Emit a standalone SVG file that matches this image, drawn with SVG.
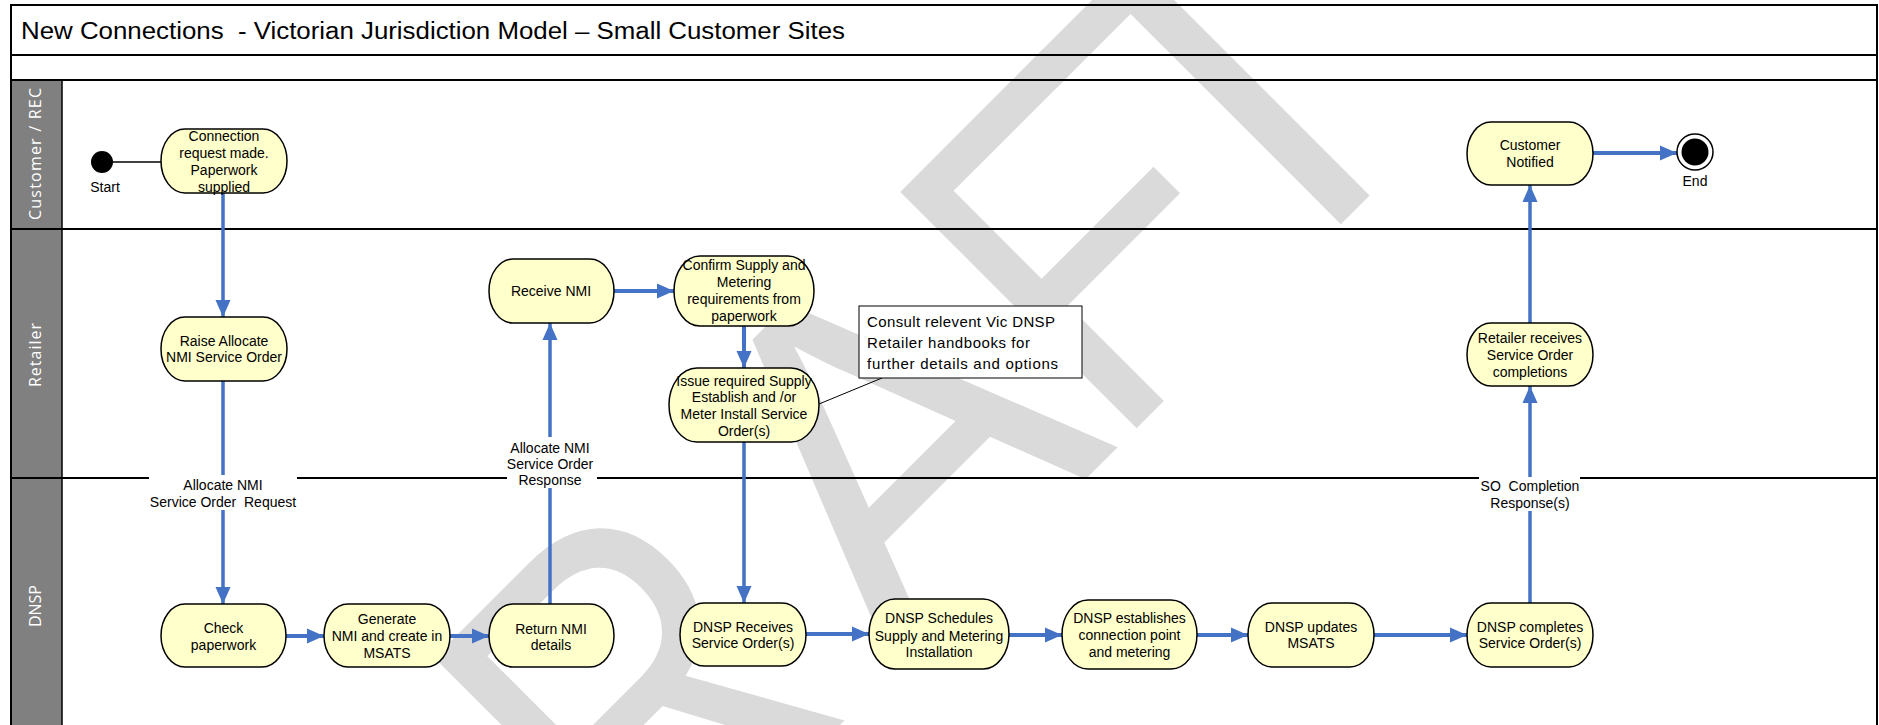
<svg xmlns="http://www.w3.org/2000/svg" width="1879" height="725" viewBox="0 0 1879 725">
<style>
.frame{fill:none;stroke:#000;stroke-width:2}
.hdr{fill:#808080;stroke:#000;stroke-width:1.5}
.hl{font-family:"Open Sans","Liberation Sans",sans-serif;font-size:16px;fill:#fff;text-anchor:middle}
.title{font-family:"Liberation Sans",Arial,sans-serif;font-size:23px;fill:#000}
.box{fill:#ffffcc;stroke:#000;stroke-width:1.5}
.nt{font-family:"Liberation Sans",Arial,sans-serif;font-size:14px;fill:#000;text-anchor:middle}
.conn{stroke:#4472c4;stroke-width:4;fill:none}
.vl{stroke-width:3.5}
.lbl{fill:#fff;stroke:none}
.note{fill:#fff;stroke:#000;stroke-width:1}
.nte{font-family:"Liberation Sans",Arial,sans-serif;font-size:15px;fill:#000}
.wm{font-family:"Liberation Sans",Arial,sans-serif;font-size:486px;fill:#dadada}
</style>
<defs>
<marker id="ah" markerUnits="userSpaceOnUse" markerWidth="18" markerHeight="16" refX="17" refY="8" orient="auto" viewBox="0 0 18 16"><path d="M0,0.5 L17,8 L0,15.5 z" fill="#4472c4"/></marker>
</defs>
<rect width="1879" height="725" fill="#fff"/>
<g id="watermark" transform="translate(890,180) rotate(-45)">
<text class="wm" x="-1012" y="350" textLength="338" lengthAdjust="spacingAndGlyphs">D</text>
<text class="wm" x="-694" y="350" textLength="299" lengthAdjust="spacingAndGlyphs">R</text>
<text class="wm" x="-345" y="350" textLength="318" lengthAdjust="spacingAndGlyphs">A</text>
<text class="wm" x="-35" y="350" textLength="252" lengthAdjust="spacingAndGlyphs">F</text>
<text class="wm" x="174" y="350" textLength="268" lengthAdjust="spacingAndGlyphs">T</text>
</g>
<g id="frame">
<rect class="hdr" x="11" y="80" width="51" height="660"/>
<rect class="frame" x="11" y="5" width="1866" height="740"/>
<line class="frame" x1="11" y1="55" x2="1877" y2="55"/>
<line class="frame" x1="11" y1="80" x2="1877" y2="80"/>
<line class="frame" x1="11" y1="229" x2="1877" y2="229"/>
<line class="frame" x1="11" y1="478" x2="1877" y2="478"/>
<text class="title" x="21" y="39" textLength="824" lengthAdjust="spacingAndGlyphs">New Connections&#160; - Victorian Jurisdiction Model – Small Customer Sites</text>
<text class="hl" transform="translate(41,154) rotate(-90)" textLength="132">Customer / REC</text>
<text class="hl" transform="translate(41,355) rotate(-90)" textLength="64">Retailer</text>
<text class="hl" transform="translate(41,606) rotate(-90)" textLength="42">DNSP</text>
</g>
<g id="connectors">
<line x1="113" y1="162" x2="161" y2="162" stroke="#000" stroke-width="1.5"/>
<line class="conn vl" x1="223" y1="193" x2="223" y2="317" marker-end="url(#ah)"/>
<line class="conn vl" x1="223" y1="381" x2="223" y2="604" marker-end="url(#ah)"/>
<line class="conn vl" x1="550" y1="604" x2="550" y2="323" marker-end="url(#ah)"/>
<line class="conn" x1="614" y1="291" x2="674" y2="291" marker-end="url(#ah)"/>
<line class="conn" x1="744" y1="326" x2="744" y2="368" marker-end="url(#ah)"/>
<line class="conn vl" x1="744" y1="442" x2="744" y2="603" marker-end="url(#ah)"/>
<line class="conn" x1="286" y1="636" x2="324" y2="636" marker-end="url(#ah)"/>
<line class="conn" x1="450" y1="636" x2="489" y2="636" marker-end="url(#ah)"/>
<line class="conn" x1="806" y1="634" x2="869" y2="634" marker-end="url(#ah)"/>
<line class="conn" x1="1009" y1="635" x2="1062" y2="635" marker-end="url(#ah)"/>
<line class="conn" x1="1197" y1="635" x2="1248" y2="635" marker-end="url(#ah)"/>
<line class="conn" x1="1374" y1="635" x2="1467" y2="635" marker-end="url(#ah)"/>
<line class="conn vl" x1="1530" y1="603" x2="1530" y2="386" marker-end="url(#ah)"/>
<line class="conn vl" x1="1530" y1="323" x2="1530" y2="185" marker-end="url(#ah)"/>
<line class="conn" x1="1593" y1="153" x2="1677" y2="153" marker-end="url(#ah)"/>
<line x1="882" y1="378" x2="819" y2="404" stroke="#000" stroke-width="1"/>
<rect class="lbl" x="149" y="475" width="148" height="35"/>
<text class="nt" x="223" y="490">Allocate NMI</text>
<text class="nt" x="223" y="507">Service Order&#160; Request</text>
<rect class="lbl" x="507" y="437" width="90" height="51"/>
<text class="nt" x="550" y="453">Allocate NMI</text>
<text class="nt" x="550" y="469">Service Order</text>
<text class="nt" x="550" y="485">Response</text>
<rect class="lbl" x="1479" y="477" width="101" height="34"/>
<text class="nt" x="1530" y="491">SO&#160; Completion</text>
<text class="nt" x="1530" y="508">Response(s)</text>
</g>
<g id="start">
<circle cx="102" cy="162" r="11" fill="#000"/>
<text class="nt" x="105" y="192">Start</text>
</g>
<g id="end">
<circle cx="1695" cy="152" r="18" fill="#fff" stroke="#000" stroke-width="1.5"/>
<circle cx="1695" cy="152" r="13.5" fill="#000"/>
<text class="nt" x="1695" y="186">End</text>
</g>
<g id="n-connection">
<rect class="box" x="161" y="129" width="126" height="64" rx="24" ry="32"/>
<text class="nt" x="224" y="141">Connection</text>
<text class="nt" x="224" y="158">request made.</text>
<text class="nt" x="224" y="175">Paperwork</text>
<text class="nt" x="224" y="192">supplied</text>
</g>
<g id="n-raise">
<rect class="box" x="161" y="317" width="126" height="64" rx="24" ry="32"/>
<text class="nt" x="224" y="346">Raise Allocate</text>
<text class="nt" x="224" y="362">NMI Service Order</text>
</g>
<g id="n-receive">
<rect class="box" x="489" y="259" width="125" height="64" rx="24" ry="32"/>
<text class="nt" x="551" y="296">Receive NMI</text>
</g>
<g id="n-confirm">
<rect class="box" x="674" y="256" width="140" height="70" rx="26" ry="35"/>
<text class="nt" x="744" y="270">Confirm Supply and</text>
<text class="nt" x="744" y="287">Metering</text>
<text class="nt" x="744" y="304">requirements from</text>
<text class="nt" x="744" y="321">paperwork</text>
</g>
<g id="n-issue">
<rect class="box" x="669" y="368" width="150" height="74" rx="28" ry="37"/>
<text class="nt" x="744" y="386">Issue required Supply</text>
<text class="nt" x="744" y="402">Establish and /or</text>
<text class="nt" x="744" y="419">Meter Install Service</text>
<text class="nt" x="744" y="436">Order(s)</text>
</g>
<g id="note">
<rect class="note" x="859" y="306" width="223" height="72"/>
<text class="nte" x="867" y="327" textLength="188">Consult relevent Vic DNSP</text>
<text class="nte" x="867" y="348" textLength="163">Retailer handbooks for</text>
<text class="nte" x="867" y="369" textLength="191">further details and options</text>
</g>
<g id="n-retailer-receives">
<rect class="box" x="1467" y="323" width="126" height="63" rx="24" ry="31.5"/>
<text class="nt" x="1530" y="343">Retailer receives</text>
<text class="nt" x="1530" y="360">Service Order</text>
<text class="nt" x="1530" y="377">completions</text>
</g>
<g id="n-customer-notified">
<rect class="box" x="1467" y="122" width="126" height="63" rx="24" ry="31.5"/>
<text class="nt" x="1530" y="150">Customer</text>
<text class="nt" x="1530" y="167">Notified</text>
</g>
<g id="n-check">
<rect class="box" x="161" y="604" width="125" height="63" rx="24" ry="31.5"/>
<text class="nt" x="223.5" y="633">Check</text>
<text class="nt" x="223.5" y="650">paperwork</text>
</g>
<g id="n-generate">
<rect class="box" x="324" y="604" width="126" height="63" rx="24" ry="31.5"/>
<text class="nt" x="387" y="624">Generate</text>
<text class="nt" x="387" y="641">NMI and create in</text>
<text class="nt" x="387" y="658">MSATS</text>
</g>
<g id="n-return">
<rect class="box" x="489" y="604" width="125" height="63" rx="24" ry="31.5"/>
<text class="nt" x="551" y="634">Return NMI</text>
<text class="nt" x="551" y="650">details</text>
</g>
<g id="n-dnsp-receives">
<rect class="box" x="680" y="603" width="126" height="63" rx="24" ry="31.5"/>
<text class="nt" x="743" y="632">DNSP Receives</text>
<text class="nt" x="743" y="648">Service Order(s)</text>
</g>
<g id="n-dnsp-schedules">
<rect class="box" x="869" y="599" width="140" height="70" rx="26" ry="35"/>
<text class="nt" x="939" y="623">DNSP Schedules</text>
<text class="nt" x="939" y="641">Supply and Metering</text>
<text class="nt" x="939" y="657">Installation</text>
</g>
<g id="n-dnsp-establishes">
<rect class="box" x="1062" y="600" width="135" height="69" rx="26" ry="34.5"/>
<text class="nt" x="1129.5" y="623">DNSP establishes</text>
<text class="nt" x="1129.5" y="640">connection point</text>
<text class="nt" x="1129.5" y="657">and metering</text>
</g>
<g id="n-dnsp-updates">
<rect class="box" x="1248" y="603" width="126" height="64" rx="24" ry="32"/>
<text class="nt" x="1311" y="632">DNSP updates</text>
<text class="nt" x="1311" y="648">MSATS</text>
</g>
<g id="n-dnsp-completes">
<rect class="box" x="1467" y="603" width="126" height="64" rx="24" ry="32"/>
<text class="nt" x="1530" y="632">DNSP completes</text>
<text class="nt" x="1530" y="648">Service Order(s)</text>
</g>
</svg>
